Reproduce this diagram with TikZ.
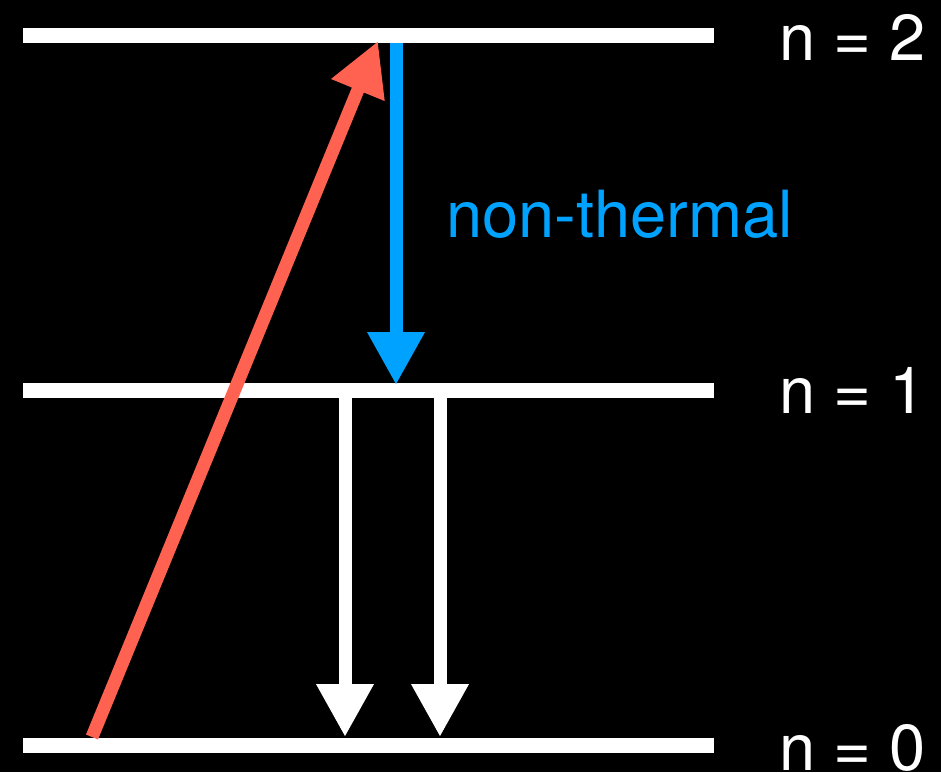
\documentclass[tikz,border=0pt]{standalone}
\usepackage{fontspec}
\setmainfont{TeX Gyre Heros}
\usepackage{tikz}
\usetikzlibrary{arrows.meta}
\definecolor{pumpred}{RGB}{255,98,81}
\definecolor{ntblue}{RGB}{0,162,255}

\begin{document}
\begin{tikzpicture}[x=1pt,y=-1pt,
  level/.style={white,line width=15pt},
  trans/.style={line width=13pt,-{Triangle[length=53pt,width=54pt]}},
  lab/.style={anchor=base west,inner sep=0pt,font=\fontsize{65}{65}\selectfont}]
\fill[black] (0,0) rectangle (941,772);
\useasboundingbox (0,0) rectangle (941,772);
% energy levels
\coordinate (top0) at (23,35);   \coordinate (top1) at (714,35);
\coordinate (mid0) at (23,390);  \coordinate (mid1) at (714,390);
\coordinate (bot0) at (23,745);  \coordinate (bot1) at (714,745);
\draw[level] (top0) -- (top1);
\draw[level] (mid0) -- (mid1);
\draw[level] (bot0) -- (bot1);
\node[lab,white] (ltop) at (779,60) {n = 2};
\node[lab,white] (lmid) at (779,413) {n = 1};
\node[lab,white] (lbot) at (779,770) {n = 0};
% transitions
\coordinate (redtail) at (92,737);   \coordinate (redtip) at (378,41);
\coordinate (bluetail) at (396,43);  \coordinate (bluetip) at (396,385);
\coordinate (wAtail) at (345,398);   \coordinate (wAtip) at (345,737);
\coordinate (wBtail) at (440,398);   \coordinate (wBtip) at (440,737);
\draw[trans,pumpred] (redtail) -- (redtip);
\draw[trans,ntblue] (bluetail) -- (bluetip);
\draw[trans,white] (wAtail) -- (wAtip);
\draw[trans,white] (wBtail) -- (wBtip);
\node[lab,ntblue] (nonth) at (446,237) {non-thermal};
\end{tikzpicture}
\end{document}
